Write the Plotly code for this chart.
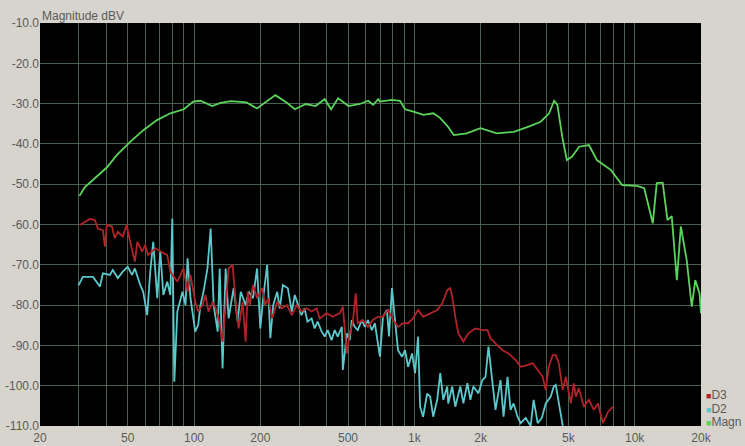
import math
import plotly.graph_objects as go

# ---- data (frequency in Hz, level in dBV) ----
magn_f = [30.2, 31.9, 36.2, 40.3, 44.6, 51.3, 58.9, 67.9, 78.1, 89.9, 99.2, 107, 121, 132, 147, 173,
          193, 206, 234, 264, 287, 322, 356, 392, 419, 451, 502, 566, 617, 650, 686, 698, 790, 861,
          908, 990, 1100, 1220, 1311, 1420, 1510, 1730, 1995, 2370, 2830, 3300, 3745, 4090, 4310,
          4460, 4690, 4920, 5190, 5600, 6200, 6740, 7810, 8770, 10230, 11050, 12080, 12600, 13400,
          14090, 14730, 15540, 16200, 17220, 18160, 18840, 19700, 20000]
magn_db = [-52.9, -50.8, -48.1, -45.8, -42.8, -39.5, -36.6, -34.1, -32.4, -31.4, -29.5, -29.3, -30.6,
           -29.8, -29.4, -29.7, -31.2, -30.1, -27.9, -29.8, -31.4, -30.1, -30.6, -28.9, -31.4, -28.7,
           -30.6, -30.1, -29.3, -30.3, -28.9, -29.5, -29.1, -29.3, -31.4, -32.0, -32.8, -32.4, -33.6,
           -35.7, -37.8, -37.4, -36.1, -37.4, -37.0, -35.7, -34.5, -32.4, -29.3, -30.3, -38.2, -44.0,
           -43.2, -40.7, -40.3, -44.0, -46.5, -50.2, -50.4, -51.0, -59.7, -49.7, -49.6, -58.9, -57.9,
           -73.8, -60.5, -68.8, -80.4, -73.8, -77.1, -82.0]

d3_f = [30.3, 33.7, 35.5, 36.6, 38.6, 39.4, 40.2, 42.4, 43.7, 45.1, 47.5, 49.5, 51.3, 53.9, 55.3, 58.2,
        60.0, 61.9, 66.7, 70.3, 75.6, 78.1, 84.0, 89.6, 93.5, 96.4, 101.3, 104.5, 109.3, 112.7, 116.3,
        121.5, 125.4, 129.4, 134.8, 139.2, 143.6, 149.7, 154.5, 159.4, 166.2, 171.5, 175.2, 179, 185.3,
        193.3, 203.9, 210.4, 217.1, 226.5, 238.6, 250.6, 263.9, 277.8, 292.7, 307.5, 324, 341.8, 360.3,
        372, 391.9, 400, 426, 459, 473.7, 494, 509, 525, 542, 553.5, 584, 615.6, 648, 683, 720, 759.5,
        800, 843, 889, 937, 987, 1040, 1096, 1180, 1270, 1338, 1410, 1456, 1486, 1534, 1584, 1669, 1759,
        1893, 2037, 2147, 2215, 2335, 2513, 2676, 2880, 3036, 3268, 3443, 3629, 3824, 3947, 4073, 4248,
        4384, 4524, 4717, 4868, 5131, 5294, 5406, 5579, 5881, 6197, 6531, 6811, 7180, 7568, 7975]
d3_db = [-60.1, -58.6, -58.9, -61.0, -61.4, -65.5, -60.1, -60.5, -63.4, -61.8, -63.0, -60.1, -64.3,
         -69.2, -64.3, -66.7, -65.1, -67.6, -65.9, -66.7, -67.6, -71.7, -74.2, -70.9, -76.7, -72.5,
         -79.2, -81.6, -80.0, -77.5, -81.6, -79.2, -80.8, -83.3, -89.1, -80.0, -70.9, -70.0, -79.2,
         -85.8, -79.2, -89.1, -76.7, -80.0, -75.0, -78.3, -75.8, -80.0, -78.3, -83.3, -79.2, -80.8,
         -80.0, -82.5, -80.0, -81.6, -80.8, -81.6, -80.8, -83.3, -82.5, -82.0, -82.9, -82.0, -80.4,
         -92.0, -87.0, -84.5, -77.1, -84.5, -83.7, -85.4, -83.7, -82.9, -82.9, -81.2, -83.7, -85.4,
         -84.5, -84.5, -83.3, -81.2, -82.9, -82.0, -81.2, -79.6, -76.3, -75.8, -77.9, -82.9, -87.0,
         -89.1, -87.0, -85.8, -86.2, -86.2, -88.2, -89.5, -91.2, -92.0, -93.6, -95.3, -94.9, -94.4,
         -96.1, -97.8, -101.1, -95.3, -92.4, -92.4, -94.4, -101.1, -97.8, -104.4, -99.4, -102.7,
         -100.6, -105.2, -103.5, -106.0, -104.4, -109.3, -106.5, -105.2]

d2_f = [29.9, 31.3, 34.8, 37.4, 38.6, 41.5, 42.8, 45.1, 47.5, 50.0, 52.3, 53.9, 57.0, 58.8, 61.3, 63.3,
        65.3, 68.1, 70.3, 72.6, 75.6, 78.1, 79.7, 81.4, 84.0, 88.7, 91.5, 93.5, 96.4, 101.3, 104.5, 107,
        110.4, 115.1, 119, 122.8, 128.1, 130.8, 134.8, 139.2, 143.6, 151.3, 157.8, 163, 171.5, 177.1,
        185.3, 193.3, 200, 206, 214.8, 222, 228.9, 238.6, 245, 253.1, 266.6, 277.8, 286.7, 295.8, 307.5,
        317.3, 327.4, 341.8, 352.8, 364, 379.7, 391.9, 404.4, 421, 435.1, 449.1, 468.8, 473.7, 494.1,
        509, 519.9, 536.5, 553.5, 578, 596.4, 615.6, 641.5, 661.9, 698, 720.5, 751, 767.4, 791.6,
        816.9, 843.2, 879.5, 907.5, 936.7, 976.5, 1008, 1040, 1062, 1096, 1143, 1180, 1218, 1270,
        1311, 1353, 1410, 1425, 1486, 1534, 1617, 1669, 1741, 1796, 1854, 1954, 2037, 2103, 2170,
        2262, 2335, 2461, 2540, 2648, 2733, 2821, 2941, 3036, 3200, 3372, 3479, 3629, 3790, 3947,
        4160, 4293, 4384, 4476, 4620, 4717]
d2_db = [-75.1, -73.0, -73.0, -75.4, -72.1, -72.5, -71.3, -73.3, -71.7, -70.5, -72.5, -70.9, -75.0,
         -76.7, -82.5, -71.7, -64.3, -78.3, -66.7, -77.5, -74.2, -77.5, -58.5, -99.0, -81.6, -76.7,
         -80.0, -68.4, -78.3, -86.6, -84.9, -80.0, -76.7, -70.9, -61.0, -80.0, -86.6, -70.9, -95.7,
         -70.9, -83.3, -75.8, -84.1, -76.7, -80.0, -76.7, -78.3, -70.9, -85.8, -78.3, -70.0, -88.2,
         -80.0, -76.7, -80.8, -75.0, -75.8, -81.6, -77.5, -80.0, -82.5, -80.8, -84.1, -83.3, -85.8,
         -84.1, -86.6, -87.8, -86.2, -88.7, -86.2, -87.8, -85.4, -96.1, -87.0, -88.7, -83.7, -85.4,
         -86.2, -83.7, -85.4, -83.7, -86.2, -84.5, -92.8, -82.9, -81.2, -87.8, -75.8, -83.7, -91.2,
         -92.8, -91.2, -95.3, -92.0, -96.9, -87.8, -105.2, -107.7, -102.0, -102.7, -107.7, -103.5,
         -96.9, -103.5, -100.2, -104.4, -100.2, -105.2, -100.2, -104.4, -99.4, -103.5, -100.2, -101.9,
         -98.6, -97.8, -90.3, -99.4, -106.0, -98.6, -107.7, -97.8, -106.0, -104.4, -107.7, -109.3,
         -108.0, -110.0, -103.5, -109.3, -108.0, -104.4, -102.7, -100.2, -99.8, -102.7, -107.7, -110.0]

series_names = ["D3", "D2", "Magn"]
series_colors = ["#b02428", "#5cc8cc", "#5ad45a"]

x_tickvals = [20, 50, 100, 200, 500, 1000, 2000, 5000, 10000, 20000]
x_ticktext = ["20", "50", "100", "200", "500", "1k", "2k", "5k", "10k", "20k"]
x_minor = [30, 40, 60, 70, 80, 90, 300, 400, 600, 700, 800, 900, 3000, 4000, 6000, 7000, 8000, 9000]
y_tickvals = [-10, -20, -30, -40, -50, -60, -70, -80, -90, -100, -110]
y_ticktext = ["%.1f" % v for v in y_tickvals]

paper_col = "#d7d4ce"
grid_col = "rgb(74,96,80)"
text_col = "#5a5a5a"
font_fam = "Liberation Sans, Arial, sans-serif"

fig = go.Figure()
for name, fx, dy, col in [("Magn", magn_f, magn_db, series_colors[2]),
                          ("D2", d2_f, d2_db, series_colors[1]),
                          ("D3", d3_f, d3_db, series_colors[0])]:
    fig.add_trace(go.Scatter(x=fx, y=dy, mode="lines", name=name, showlegend=False,
                             line=dict(color=col, width=1.8), hoverinfo="skip"))

fig.update_layout(
    width=745, height=446,
    margin=dict(l=40, r=44, t=23, b=20),
    paper_bgcolor=paper_col,
    plot_bgcolor="black",
    font=dict(family=font_fam, size=12, color=text_col),
    showlegend=False,
)
fig.update_xaxes(type="log", range=[math.log10(20), math.log10(20000)], automargin=False,
                 tickmode="array", tickvals=x_tickvals, ticktext=x_ticktext,
                 showgrid=True, gridcolor=grid_col, gridwidth=1,
                 minor=dict(tickmode="array", tickvals=x_minor, showgrid=True,
                            gridcolor=grid_col, gridwidth=1, ticks=""),
                 ticks="", zeroline=False, showline=False, ticklabelstandoff=3,
                 tickfont=dict(size=12, color=text_col))
fig.update_yaxes(range=[-110, -10], tickmode="array", tickvals=y_tickvals, ticktext=y_ticktext,
                 automargin=False,
                 showgrid=True, gridcolor=grid_col, gridwidth=1,
                 ticks="", zeroline=False, showline=False,
                 tickfont=dict(size=12, color=text_col))

fig.add_annotation(text="Magnitude dBV", xref="paper", yref="paper", x=0, y=1,
                   xanchor="left", yanchor="bottom", yshift=-2, showarrow=False,
                   font=dict(size=12, color=text_col))

# legend drawn as annotations (small squares + names), bottom right
for i, (name, col) in enumerate(zip(series_names, series_colors)):
    fig.add_annotation(text="<span style='color:%s;font-size:9px'>■</span>%s" % (col, name),
                       xref="paper", yref="paper", x=1, y=0, xanchor="left", yanchor="middle",
                       xshift=3, yshift=31 - 13.5 * i, showarrow=False,
                       font=dict(size=12, color=text_col))

fig.write_html("out.html", config={"displayModeBar": False},
               post_script="document.body.style.margin='0';document.body.style.overflow='hidden';"
                           "document.body.style.background='%s';" % paper_col)
